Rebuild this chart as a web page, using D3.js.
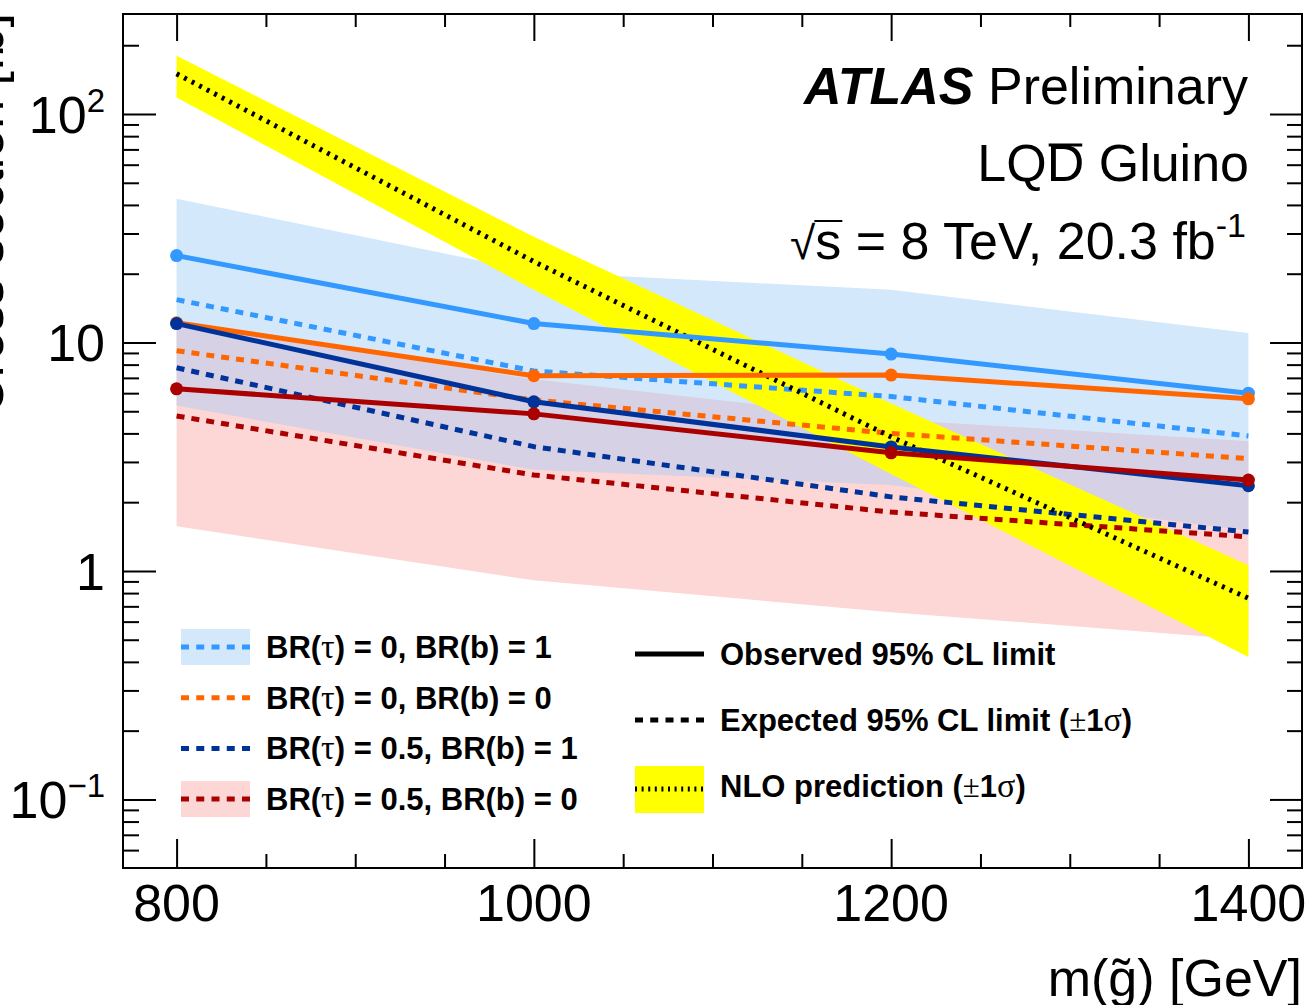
<!DOCTYPE html>
<meta charset="utf-8">
<style>
body { margin: 0; background: #fff; }
text { font-family: "Liberation Sans", Helvetica, Arial, sans-serif; fill: #000; }
.axis path { display: none; }
.axis line { stroke: #000; stroke-width: 2px; }
.leg { font-size: 31px; font-weight: bold; }
.sym { font-family: "Liberation Serif", "Times New Roman", serif; font-weight: normal; }
</style>
<body>
<script src="https://d3js.org/d3.v7.min.js"></script>
<script>

var width = 1310,
    height = 1005,
    padL = 123, padR = 1302, padT = 14, padB = 868;

// gluino masses (GeV)
var masses = [800, 1000, 1200, 1400];

// BR(tau)=0, BR(b)=1
var obsB1 = [24.0, 12.1, 8.9, 6.0];
var expB1 = [15.4, 7.5, 5.8, 3.9];
var expB1Up = [42.6, 20.4, 17.0, 11.0];
var expB1Dn = [5.3, 2.77, 2.38, 1.5];

// BR(tau)=0, BR(b)=0
var obsB0 = [12.2, 7.15, 7.2, 5.67];
var expB0 = [9.2, 5.6, 4.0, 3.1];

// BR(tau)=0.5, BR(b)=1
var obsTB1 = [12.1, 5.5, 3.49, 2.36];
var expTB1 = [7.75, 3.5, 2.11, 1.48];

// BR(tau)=0.5, BR(b)=0
var obsTB0 = [6.27, 4.87, 3.29, 2.5];
var expTB0 = [4.77, 2.63, 1.81, 1.41];
var expTB0Up = [12.2, 6.9, 4.6, 3.7];
var expTB0Dn = [1.57, 0.91, 0.66, 0.50];

// NLO gluino pair cross section
var nlo = [150, 22.6, 3.86, 0.76];
var nloUp = [180, 29, 5.4, 1.06];
var nloDn = [118, 17, 2.66, 0.42];

var xTicks = [800, 1000, 1200, 1400];
var xMinor = [850, 900, 950, 1050, 1100, 1150, 1250, 1300, 1350];
var yTicks = [0.1, 1, 10, 100];
var yTickLabels = [["10", "\u22121"], ["1", null], ["10", null], ["10", "2"]];

var series = [
  {obs: obsB1, exp: expB1, color: "#3399ff"},
  {obs: obsB0, exp: expB0, color: "#ff6600"},
  {obs: obsTB1, exp: expTB1, color: "#003399"},
  {obs: obsTB0, exp: expTB0, color: "#aa0000"}
];

var legendLeft = [
  {label: ["BR(", "\u03c4", ") = 0, BR(b) = 1"], color: "#3399ff", box: "#d4e8fc"},
  {label: ["BR(", "\u03c4", ") = 0, BR(b) = 0"], color: "#ff6600", box: null},
  {label: ["BR(", "\u03c4", ") = 0.5, BR(b) = 1"], color: "#003399", box: null},
  {label: ["BR(", "\u03c4", ") = 0.5, BR(b) = 0"], color: "#aa0000", box: "#fdd6d6"}
];

var x = d3.scaleLinear().domain([770, 1430]).range([padL, padR]);
var y = d3.scaleLog().domain([0.0501, 274]).range([padB, padT]);

var yMinor = [];
[0.01, 0.1, 1, 10, 100].forEach(function(d) {
  for (var k = 2; k <= 9; k++) {
    var v = k * d;
    if (v >= 0.0501 && v <= 274) yMinor.push(v);
  }
});

var svg = d3.select("body").append("svg")
    .attr("width", width)
    .attr("height", height);

var defs = svg.append("defs");

var band = function(up, dn) {
  return d3.area()
      .x(function(d, i) { return x(masses[i]); })
      .y0(function(d, i) { return y(dn[i]); })
      .y1(function(d, i) { return y(up[i]); })(masses);
};

var line = function(vals) {
  return d3.line()
      .x(function(d, i) { return x(masses[i]); })
      .y(function(d) { return y(d); })(vals);
};

// expected bands, with their overlap drawn in purple
defs.append("clipPath").attr("id", "blueband")
  .append("path").attr("d", band(expB1Up, expB1Dn));

svg.append("path").attr("d", band(expB1Up, expB1Dn)).attr("fill", "#d4e8fc");
svg.append("path").attr("d", band(expTB0Up, expTB0Dn)).attr("fill", "#fdd6d6");
svg.append("path").attr("d", band(expTB0Up, expTB0Dn)).attr("fill", "#d6d1e4")
    .attr("clip-path", "url(#blueband)");

// NLO band
svg.append("path").attr("d", band(nloUp, nloDn)).attr("fill", "#ffff00");

// expected limits
series.forEach(function(s) {
  svg.append("path")
      .attr("d", line(s.exp))
      .attr("fill", "none")
      .attr("stroke", s.color)
      .attr("stroke-width", 5)
      .attr("stroke-dasharray", "8,7");
});

// NLO central
svg.append("path")
    .attr("d", line(nlo))
    .attr("fill", "none")
    .attr("stroke", "#000")
    .attr("stroke-width", 5)
    .attr("stroke-dasharray", "3,5.5");

// observed limits
series.forEach(function(s) {
  svg.append("path")
      .attr("d", line(s.obs))
      .attr("fill", "none")
      .attr("stroke", s.color)
      .attr("stroke-width", 5);
  svg.selectAll(null)
      .data(s.obs).enter()
    .append("circle")
      .attr("cx", function(d, i) { return x(masses[i]); })
      .attr("cy", function(d) { return y(d); })
      .attr("r", 6.5)
      .attr("fill", s.color);
});

// axes: ticks only, pointing inwards
function ticks(axis, vals, size, tx, ty) {
  svg.append("g").attr("class", "axis")
      .attr("transform", "translate(" + tx + "," + ty + ")")
      .call(axis.tickValues(vals).tickSize(size).tickFormat(""));
}
ticks(d3.axisBottom(x), xTicks, -29, 0, padB);
ticks(d3.axisBottom(x), xMinor, -14, 0, padB);
ticks(d3.axisTop(x), xTicks, -27, 0, padT);
ticks(d3.axisTop(x), xMinor, -13, 0, padT);
ticks(d3.axisLeft(y), yTicks, -33, padL, 0);
ticks(d3.axisLeft(y), yMinor, -16, padL, 0);
ticks(d3.axisRight(y), yTicks, -32, padR, 0);
ticks(d3.axisRight(y), yMinor, -15, padR, 0);

svg.append("rect")
    .attr("x", padL).attr("y", padT)
    .attr("width", padR - padL).attr("height", padB - padT)
    .attr("fill", "none").attr("stroke", "#000").attr("stroke-width", 2);

// tick labels
svg.selectAll(".xl")
    .data(xTicks).enter()
  .append("text")
    .attr("x", function(d) { return x(d); })
    .attr("y", 921)
    .attr("text-anchor", "middle")
    .style("font-size", "52px")
    .text(function(d) { return d; });

yTicks.forEach(function(v, i) {
  var t = svg.append("text")
      .attr("x", 105)
      .attr("y", y(v) + 19)
      .attr("text-anchor", "end")
      .style("font-size", "52px");
  t.append("tspan").text(yTickLabels[i][0]);
  if (yTickLabels[i][1]) {
    t.append("tspan").attr("dy", -21).style("font-size", "33px").text(yTickLabels[i][1]);
  }
});

// axis titles
svg.append("text")
    .attr("transform", "translate(3,214) rotate(-90)")
    .attr("text-anchor", "middle")
    .style("font-size", "52px")
    .text("Cross section [fb]");

svg.append("text")
    .attr("x", 1302)
    .attr("y", 996)
    .attr("text-anchor", "end")
    .style("font-size", "52px")
    .text("m(g\u0303) [GeV]");

// labels top right
var atlas = svg.append("text")
    .attr("x", 1248).attr("y", 104)
    .attr("text-anchor", "end")
    .style("font-size", "52px");
atlas.append("tspan").style("font-weight", "bold").style("font-style", "italic").text("ATLAS");
atlas.append("tspan").text(" Preliminary");

var lqd = svg.append("text")
    .attr("x", 1249).attr("y", 181)
    .attr("text-anchor", "end")
    .style("font-size", "52px")
    .text("LQD Gluino");
var dx0 = lqd.node().getStartPositionOfChar(2).x,
    dw = lqd.node().getSubStringLength(2, 1);
svg.append("line")
    .attr("x1", dx0 + 2).attr("x2", dx0 + dw - 2)
    .attr("y1", 145).attr("y2", 145)
    .attr("stroke", "#000").attr("stroke-width", 3);

var roots = svg.append("text")
    .attr("x", 1246).attr("y", 259)
    .attr("text-anchor", "end")
    .style("font-size", "52px");
roots.append("tspan").style("font-size", "46px").text("\u221a");
roots.append("tspan").text("s = 8 TeV, 20.3 fb");
roots.append("tspan").attr("dy", -22).style("font-size", "34px").text("-1");
var sx0 = roots.node().getStartPositionOfChar(1).x,
    sw = roots.node().getSubStringLength(1, 1);
svg.append("line")
    .attr("x1", sx0 - 1).attr("x2", sx0 + sw + 1)
    .attr("y1", 221).attr("y2", 221)
    .attr("stroke", "#000").attr("stroke-width", 2);

// legend, left column
legendLeft.forEach(function(d, i) {
  var cy = 647 + i * 50.7;
  if (d.box) {
    svg.append("rect")
        .attr("x", 181).attr("y", cy - 18)
        .attr("width", 69).attr("height", 36)
        .attr("fill", d.box);
  }
  svg.append("line")
      .attr("x1", 181).attr("x2", 250)
      .attr("y1", cy).attr("y2", cy)
      .attr("stroke", d.color).attr("stroke-width", 5)
      .attr("stroke-dasharray", "8,7.25");
  var t = svg.append("text").attr("class", "leg")
      .attr("x", 266).attr("y", cy + 11);
  t.append("tspan").text(d.label[0]);
  t.append("tspan").attr("class", "sym").style("font-size", "34px").text(d.label[1]);
  t.append("tspan").text(d.label[2]);
});

// legend, right column
svg.append("line")
    .attr("x1", 635).attr("x2", 704).attr("y1", 654).attr("y2", 654)
    .attr("stroke", "#000").attr("stroke-width", 5);
var t1 = svg.append("text").attr("class", "leg").attr("x", 720).attr("y", 665);
t1.text("Observed 95% CL limit");

svg.append("line")
    .attr("x1", 635).attr("x2", 704).attr("y1", 720).attr("y2", 720)
    .attr("stroke", "#000").attr("stroke-width", 5)
    .attr("stroke-dasharray", "8,7.25");
var t2 = svg.append("text").attr("class", "leg").attr("x", 720).attr("y", 731);
t2.append("tspan").text("Expected 95% CL limit (");
t2.append("tspan").attr("class", "sym").text("\u00b1");
t2.append("tspan").text("1");
t2.append("tspan").attr("class", "sym").style("font-size", "34px").text("\u03c3");
t2.append("tspan").text(")");

svg.append("rect")
    .attr("x", 635).attr("y", 766).attr("width", 69).attr("height", 47)
    .attr("fill", "#ffff00");
svg.append("line")
    .attr("x1", 635).attr("x2", 704).attr("y1", 789).attr("y2", 789)
    .attr("stroke", "#000").attr("stroke-width", 5)
    .attr("stroke-dasharray", "2,4.6");
var t3 = svg.append("text").attr("class", "leg").attr("x", 720).attr("y", 797);
t3.append("tspan").text("NLO prediction (");
t3.append("tspan").attr("class", "sym").text("\u00b1");
t3.append("tspan").text("1");
t3.append("tspan").attr("class", "sym").style("font-size", "34px").text("\u03c3");
t3.append("tspan").text(")");

</script>
